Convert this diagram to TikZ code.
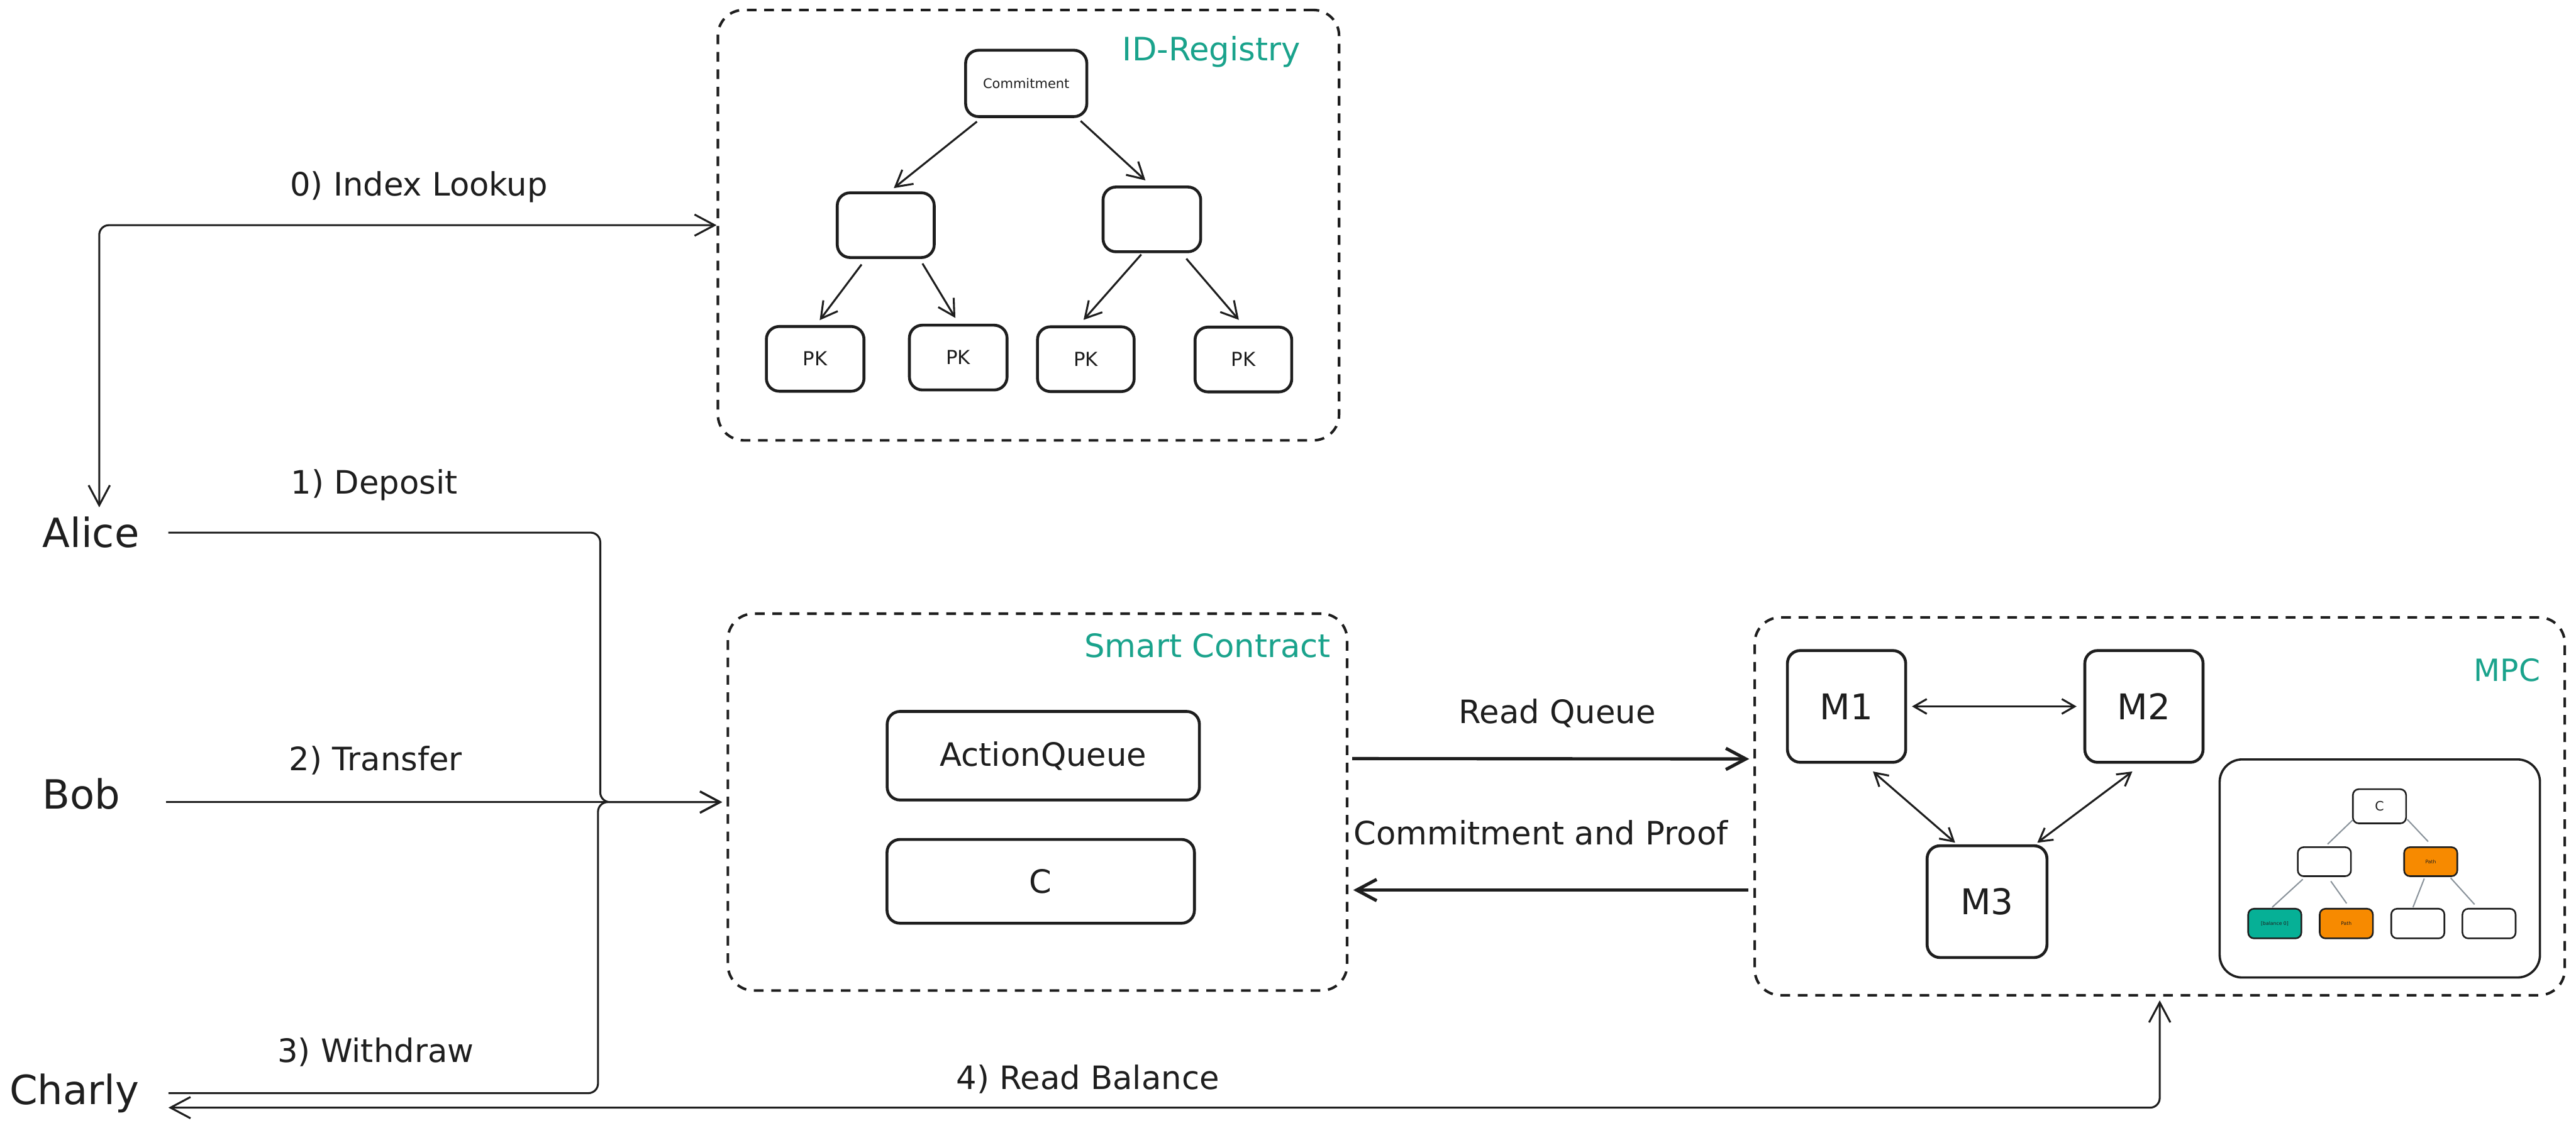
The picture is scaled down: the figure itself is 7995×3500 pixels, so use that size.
\documentclass[tikz,border=0pt]{standalone}
\usepackage{fontspec}
\setmainfont{DejaVu Sans}
\usetikzlibrary{arrows.meta,calc}
\definecolor{tealtxt}{HTML}{1AA38C}
\definecolor{tealfill}{HTML}{06B096}
\definecolor{orangefill}{HTML}{F78A00}
\definecolor{ink}{HTML}{1E1E1E}
\definecolor{greyline}{HTML}{8A939B}
\newcommand\myfs[1]{\fontsize{#1}{#1}\selectfont}
\begin{document}
\begin{tikzpicture}[x=1pt,y=-1pt,
  every node/.style={text=ink},
  grp/.style={draw=ink, line width=8pt, dash pattern=on 30pt off 24pt, rounded corners=80pt, inner sep=0pt},
  grptitle/.style={text=tealtxt, font=\myfs{100}},
  box/.style={draw=ink, line width=9pt, rounded corners=40pt, fill=white, inner sep=0pt},
  minibox/.style={draw=ink, line width=5pt, rounded corners=18pt, fill=white, inner sep=0pt, minimum width=165pt, minimum height=92pt, font=\myfs{15}},
  usr/.style={font=\myfs{125}, inner xsep=90pt, inner ysep=30pt, anchor=base},
  lbl/.style={font=\myfs{100}},
  tipA/.tip={Straight Barb[length=62pt,width=66pt]},
  tipB/.tip={Straight Barb[length=50pt,width=56pt]},
  tipC/.tip={Straight Barb[length=40pt,width=46pt]},
  arr/.style={draw=ink, line width=6pt, -tipA},
  darr/.style={draw=ink, line width=6pt, tipA-tipA},
  thickarr/.style={draw=ink, line width=10pt, -tipA},
  treearr/.style={draw=ink, line width=6pt, -tipB},
  marr/.style={draw=ink, line width=6pt, tipC-tipC},
  greyln/.style={draw=greyline, line width=4pt}
]
\useasboundingbox (0,0) rectangle (7995,3500);
\fill[white] (0,0) rectangle (7995,3500);

% ---------- group frames ----------
\node[grp, minimum width=1928pt, minimum height=1336pt] (reg) at (3192,699) {};
\node[grp, minimum width=1922pt, minimum height=1170pt] (sc) at (3220,2490) {};
\node[grp, minimum width=2514pt, minimum height=1173pt] (mpc) at (6703,2503) {};
\node[grptitle] (regt) at (3760,160) {ID-Registry};
\node[grptitle] (sct) at (3748,2004) {Smart Contract};
\node[grptitle, font=\myfs{95}] (mpct) at (7781,2080) {MPC};

% ---------- ID registry tree ----------
\node[box, minimum width=376pt, minimum height=206pt, font=\myfs{41}] (cm) at (3185,259) {Commitment};
\node[box, minimum width=301pt, minimum height=201pt] (ml) at (2749,699) {};
\node[box, minimum width=303pt, minimum height=201pt] (mr) at (3575,681) {};
\node[box, minimum width=303pt, minimum height=201pt, font=\myfs{60}] (pk1) at (2530,1114) {PK};
\node[box, minimum width=303pt, minimum height=201pt, font=\myfs{60}] (pk2) at (2974,1110) {PK};
\node[box, minimum width=300pt, minimum height=201pt, font=\myfs{60}] (pk3) at (3370,1115) {PK};
\node[box, minimum width=300pt, minimum height=201pt, font=\myfs{60}] (pk4) at (3859,1116) {PK};
\draw[treearr] ($(cm.south)+(-153,11)$) -- ($(ml.north)+(25,-10)$);
\draw[treearr] ($(cm.south)+(169,9)$) -- ($(mr.north)+(-20,-16)$);
\draw[treearr] ($(ml.south)+(-75,17)$) -- ($(pk1.north)+(14,-15)$);
\draw[treearr] ($(ml.south)+(114,14)$) -- ($(pk2.north)+(-9,-18)$);
\draw[treearr] ($(mr.south)+(-33,4)$) -- ($(pk3.north)+(-7,-17)$);
\draw[treearr] ($(mr.south)+(107,17)$) -- ($(pk4.north)+(-14,-18)$);

% ---------- smart contract ----------
\node[box, minimum width=969pt, minimum height=275pt, font=\myfs{100}] (aq) at (3238,2346) {ActionQueue};
\node[box, minimum width=954pt, minimum height=260pt, font=\myfs{100}] (cn) at (3230,2736) {C};

% ---------- MPC ----------
\node[box, minimum width=367pt, minimum height=347pt, font=\myfs{110}] (m1) at (5731,2193) {M1};
\node[box, minimum width=367pt, minimum height=347pt, font=\myfs{110}] (m2) at (6654,2193) {M2};
\node[box, minimum width=372pt, minimum height=347pt, font=\myfs{110}] (m3) at (6167,2799) {M3};
\draw[marr, shorten <=15pt, shorten >=21pt] (m1.east) -- (m2.west);
\draw[marr] ($(m1.south)+(82,24)$) -- ($(m3.north)+(-99,-5)$);
\draw[marr] ($(m2.south)+(-36,24)$) -- ($(m3.north)+(156,-5)$);

\node[draw=ink, line width=7pt, rounded corners=70pt, minimum width=994pt, minimum height=677pt, inner sep=0pt] (inner) at (7386,2696) {};
\node[minibox, minimum height=106pt, font=\myfs{40}] (mc) at (7385,2503) {C};
\node[minibox, minimum height=90pt] (mml) at (7214,2675) {};
\node[minibox, minimum height=90pt, fill=orangefill] (mmr) at (7544,2675) {Path};
\node[minibox, fill=tealfill] (l1) at (7060,2867) {[balance 0]};
\node[minibox, fill=orangefill] (l2) at (7282,2867) {Path};
\node[minibox] (l3) at (7504,2867) {};
\node[minibox] (l4) at (7725,2867) {};
\draw[greyln] ($(mc.south west)+(2,-13)$) -- ($(mml.north)+(10,-7)$);
\draw[greyln] ($(mc.south east)+(1,-15)$) -- ($(mmr.north)+(-8,-15)$);
\draw[greyln] ($(mml.south)+(-67,7)$) -- ($(l1.north)+(-8,-2)$);
\draw[greyln] ($(mml.south)+(20,13)$) -- ($(l2.north)+(1,-14)$);
\draw[greyln] ($(mmr.south)+(-20,5)$) -- ($(l3.north)+(-15,-2)$);
\draw[greyln] ($(mmr.south)+(62,3)$) -- ($(l4.north)+(-45,-11)$);

% ---------- users ----------
\node[usr] (alice) at (282,1700) {Alice};
\node[usr, inner xsep=142pt] (bob) at (253,2512) {Bob};
\node[usr] (charly) at (231,3428) {Charly};

\coordinate (lk) at (308,700);
\draw[darr, rounded corners=30pt] (alice.north -| lk) |- (reg.west);
\node[lbl] (l0) at (1300,581) {0) Index Lookup};

\draw[arr, rounded corners=30pt, shorten >=14pt] (alice.east) -| ($(sc.west)+(-392,0)$) -- (sc.west);
\draw[arr, shorten >=14pt] (bob.east |- sc.west) -- (sc.west);
\draw[arr, rounded corners=30pt, shorten >=14pt] (charly.east) -| ($(sc.west)+(-399,0)$) -- (sc.west);
\node[lbl] (l1lbl) at (1162,1505) {1) Deposit};
\node[lbl] (l2lbl) at (1166,2360) {2) Transfer};
\node[lbl] (l3lbl) at (1166,3266) {3) Withdraw};

\draw[darr, rounded corners=30pt] ($(mpc.south)+(0,12)$) |- ($(charly.east)+(0,45)$);
\node[lbl] (l4lbl) at (3376,3350) {4) Read Balance};

% ---------- contract <-> MPC ----------
\draw[thickarr] ($(sc.east)+(12,-135)$) -- ($(mpc.west)+(-13,-147)$);
\node[lbl] (rq) at (4833,2215) {Read Queue};
\draw[thickarr] ($(mpc.west)+(-16,260)$) -- ($(sc.east)+(15,273)$);
\node[lbl] (cp) at (4782,2585) {Commitment and Proof};
\end{tikzpicture}
\end{document}
